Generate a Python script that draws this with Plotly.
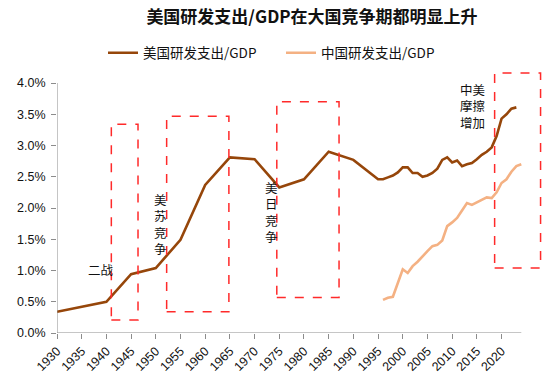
import plotly.graph_objects as go

# ---- data ----
us_years = [1930, 1940, 1945, 1950, 1955, 1960, 1965, 1970, 1975, 1980, 1985, 1990,
            1995, 1996, 1997, 1998, 1999, 2000, 2001, 2002, 2003, 2004, 2005, 2006,
            2007, 2008, 2009, 2010, 2011, 2012, 2013, 2014, 2015, 2016, 2017, 2018,
            2019, 2020, 2021, 2022, 2023]
us_values = [0.34, 0.50, 0.94, 1.04, 1.49, 2.37, 2.81, 2.78, 2.33, 2.46, 2.90, 2.77,
             2.46, 2.46, 2.49, 2.52, 2.57, 2.65, 2.65, 2.56, 2.56, 2.50, 2.52, 2.56,
             2.63, 2.77, 2.81, 2.73, 2.76, 2.67, 2.70, 2.72, 2.78, 2.85, 2.90, 2.97,
             3.15, 3.43, 3.50, 3.59, 3.61]

cn_years = list(range(1996, 2025))
cn_values = [0.53, 0.565, 0.58, 0.80, 1.02, 0.96, 1.07, 1.14, 1.23, 1.31, 1.39, 1.41,
             1.48, 1.71, 1.77, 1.84, 1.96, 2.08, 2.05, 2.09, 2.14, 2.17, 2.16, 2.25,
             2.40, 2.46, 2.58, 2.67, 2.70]

x_ticks = list(range(1930, 2021, 5))
y_ticks = [0, 0.5, 1.0, 1.5, 2.0, 2.5, 3.0, 3.5, 4.0]

# highlighted periods (year span, % span)
box_x0 = [1941.0, 1952.2, 1974.5, 2018.6]
box_x1 = [1946.4, 1964.8, 1987.1, 2027.9]
box_y0 = [0.21, 0.34, 0.57, 1.04]
box_y1 = [3.34, 3.47, 3.70, 4.16]

label_texts = ["二战", "美<br>苏<br>竞<br>争", "美<br>日<br>竞<br>争", "中美<br>摩擦<br>增加"]
label_x = [1938.9, 1951.0, 1973.45, 2014.1]
label_y = [1.0, 1.72, 1.915, 3.61]

title_text = "美国研发支出/GDP在大国竞争期都明显上升"
us_name = "美国研发支出/GDP"
cn_name = "中国研发支出/GDP"

# ---- figure ----
US_COLOR = "#96460A"
CN_COLOR = "#F4B183"
BOX_COLOR = "#FF2A2A"
AXIS_COLOR = "#8C8C8C"
CJK = "Noto Sans CJK SC"
LAT = "Liberation Sans, Arial, sans-serif"
LABEL_FONT = "Liberation Sans, Noto Sans CJK SC, sans-serif"

fig = go.Figure()
fig.add_trace(go.Scatter(x=us_years, y=us_values, mode="lines", name=us_name,
                         line=dict(color=US_COLOR, width=2.6)))
fig.add_trace(go.Scatter(x=cn_years, y=cn_values, mode="lines", name=cn_name,
                         line=dict(color=CN_COLOR, width=2.6)))

# axis lines drawn in data units
fig.add_shape(type="line", xref="x", yref="y", x0=1930, x1=2024, y0=0, y1=0,
              line=dict(color=AXIS_COLOR, width=1))
fig.add_shape(type="line", xref="x", yref="y", x0=1930, x1=1930, y0=0, y1=4.0,
              line=dict(color=AXIS_COLOR, width=1))

for a, b, c, d in zip(box_x0, box_x1, box_y0, box_y1):
    fig.add_shape(type="rect", xref="x", yref="y", x0=a, x1=b, y0=c, y1=d,
                  line=dict(color=BOX_COLOR, width=1.5, dash="dash"),
                  fillcolor="rgba(0,0,0,0)")

for t, lx, ly in zip(label_texts, label_x, label_y):
    fig.add_annotation(x=lx, y=ly, xref="x", yref="y", text=t, showarrow=False,
                       font=dict(family=LABEL_FONT, size=12.5, color="#111111"),
                       xanchor="center", yanchor="middle", align="center")

fig.update_layout(
    width=550, height=380,
    margin=dict(l=57, r=4, t=70, b=47, autoexpand=False),
    paper_bgcolor="white", plot_bgcolor="white",
    title=dict(text="<b>" + title_text + "</b>", x=312 / 550, xref="container",
               y=1 - 17.5 / 380, yref="container", xanchor="center", yanchor="middle",
               font=dict(family=CJK, size=17, color="#111111")),
    showlegend=True,
    legend=dict(orientation="h", x=(103 - 57) / 489, xanchor="left",
                y=1 + (70 - 53) / 263, yanchor="middle",
                font=dict(family=CJK, size=13.5, color="#111111"),
                bgcolor="rgba(0,0,0,0)", entrywidth=133, entrywidthmode="pixels"),
    xaxis=dict(range=[1930, 2029], showgrid=False, zeroline=False, showline=False,
               automargin=False,
               tickmode="array", tickvals=x_ticks, ticktext=[str(v) for v in x_ticks],
               tickangle=-45, ticks="outside", ticklen=5, tickcolor=AXIS_COLOR,
               tickfont=dict(family=LAT, size=12.5, color="#111111")),
    yaxis=dict(range=[0, 263 / 62.5], showgrid=False, zeroline=False, showline=False,
               automargin=False,
               tickmode="array", tickvals=y_ticks,
               ticktext=["%.1f%%" % v for v in y_ticks],
               ticks="outside", ticklen=5, tickcolor=AXIS_COLOR, ticklabelstandoff=3,
               tickfont=dict(family=LAT, size=12.5, color="#111111")),
)

fig.write_html("out.html",
               config={"displayModeBar": False},
               post_script="document.body.style.margin='0px';"
                           "document.body.style.overflow='hidden';")
